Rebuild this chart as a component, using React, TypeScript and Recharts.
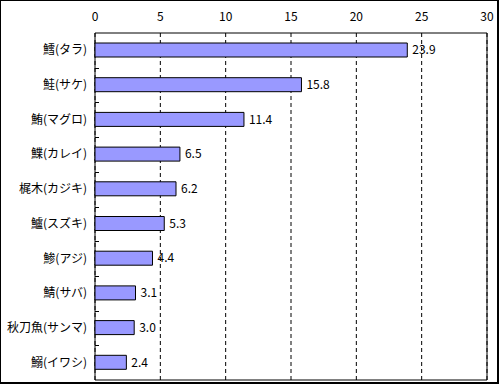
import React from 'react';
import * as Recharts from 'recharts';

const {
    BarChart,
    Bar,
    XAxis,
    YAxis,
    CartesianGrid,
    ReferenceArea,
    LabelList
} = Recharts;

// fish names and share (%)
const fishNames = [
    '鱈(タラ)',
    '鮭(サケ)',
    '鮪(マグロ)',
    '鰈(カレイ)',
    '梶木(カジキ)',
    '鱸(スズキ)',
    '鯵(アジ)',
    '鯖(サバ)',
    '秋刀魚(サンマ)',
    '鰯(イワシ)'
];
const shares = [23.9, 15.8, 11.4, 6.5, 6.2, 5.3, 4.4, 3.1, 3.0, 2.4];
const xTicks = [0, 5, 10, 15, 20, 25, 30];

const chartData = fishNames.map((name, i) => ({ name, value: shares[i] }));

const FONT = "'Noto Sans CJK JP', sans-serif";
const W = 500;
const H = 385;
const MARGIN = { top: 8, right: 13, bottom: 5, left: 0 };
const X_AXIS_H = 25;
const Y_AXIS_W = 95;
const plotH = H - MARGIN.top - MARGIN.bottom - X_AXIS_H;
const band = plotH / fishNames.length;

// category label plus the small inner tick at the boundary below it
const CategoryTick = (props: any) => {
    const { x, y, payload } = props;
    const idx = fishNames.indexOf(payload.value);
    const axisX = MARGIN.left + Y_AXIS_W;
    const ty = Math.round(y + band / 2) + 0.5;
    return (
        <g>
            <text x={x} y={y} dy={4} textAnchor="end" fill="#000" fontSize={12} fontFamily={FONT}>
                {payload.value}
            </text>
            {idx >= 0 && idx < fishNames.length - 1 && (
                <line x1={axisX} x2={axisX + 4} y1={ty} y2={ty} stroke="#000" strokeWidth={1} />
            )}
        </g>
    );
};

const App: React.FC = () => {
    return (
        <div style={{ position: 'absolute', left: 0, top: 0, width: W, height: H, background: '#fff' }}>
            <div
                style={{
                    position: 'absolute',
                    left: 0,
                    top: 0,
                    width: 499,
                    height: 384,
                    boxSizing: 'border-box',
                    borderLeft: '1px solid #000',
                    borderTop: '1px solid #000',
                    borderRight: '2px solid #000',
                    borderBottom: '2px solid #000'
                }}
            />
            <BarChart
                width={W}
                height={H}
                data={chartData}
                layout="vertical"
                margin={MARGIN}
                barCategoryGap={0}
                style={{ position: 'absolute', left: 0, top: 0, fontFamily: FONT }}
            >
                <CartesianGrid horizontal={false} stroke="#000" strokeDasharray="4 3" />
                <XAxis
                    type="number"
                    orientation="top"
                    domain={[0, 30]}
                    ticks={xTicks}
                    height={X_AXIS_H}
                    tickLine={false}
                    axisLine={false}
                    tickMargin={6}
                    tick={{ fill: '#000', fontSize: 12, fontFamily: FONT }}
                />
                <YAxis
                    type="category"
                    dataKey="name"
                    width={Y_AXIS_W}
                    tickLine={false}
                    axisLine={false}
                    interval={0}
                    tick={<CategoryTick />}
                />
                <ReferenceArea x1={0} x2={30} fill="none" stroke="#000" strokeWidth={1} fillOpacity={0} />
                <Bar dataKey="value" fill="#9999FF" stroke="#000" strokeWidth={1} barSize={14} isAnimationActive={false}>
                    <LabelList
                        dataKey="value"
                        position="right"
                        offset={5}
                        fill="#000"
                        fontSize={12}
                        fontFamily={FONT}
                        formatter={(v: number) => v.toFixed(1)}
                    />
                </Bar>
            </BarChart>
        </div>
    );
};

export default App;
